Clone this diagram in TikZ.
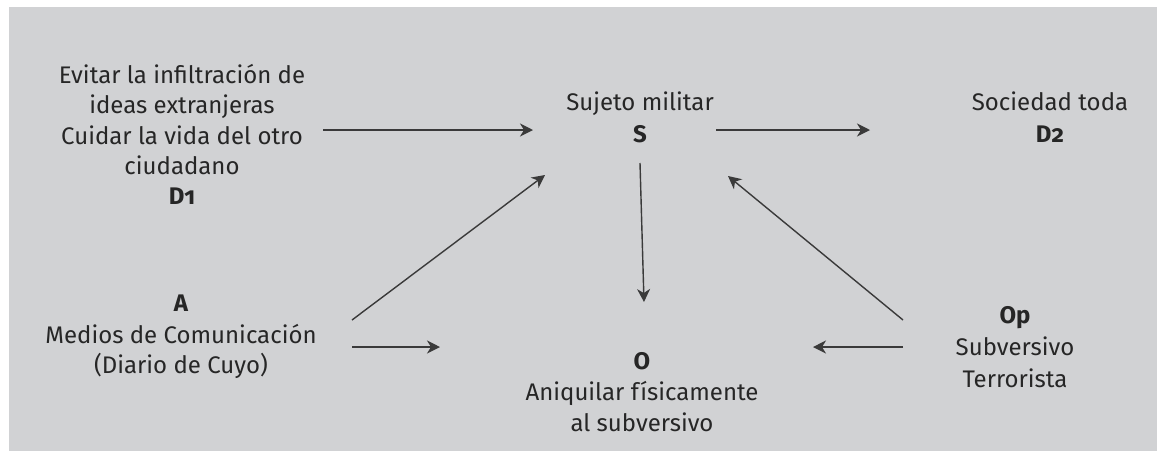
\documentclass[tikz,border=0pt]{standalone}
\usepackage{fontspec}
\setmainfont{Fira Sans}[Numbers=OldStyle]
\usetikzlibrary{arrows.meta}
\definecolor{bg}{HTML}{D1D2D4}
\definecolor{ink}{HTML}{262626}
\definecolor{arr}{HTML}{3A3A3A}
\begin{document}
\begin{tikzpicture}[x=1pt,y=-1pt,
  txt/.style={anchor=base,inner sep=0pt,text=ink,font=\fontsize{24}{30}\selectfont},
  lbl/.style={txt,font=\fontsize{24}{30}\selectfont\bfseries},
  conn/.style={draw=arr,line width=1.4pt,-{Stealth[length=13pt,width=13pt,inset=4pt]}}]
\path[use as bounding box] (0,0) rectangle (1157,451);
\fill[bg] (9,7) rectangle (1157,451);
% D1 group
\node[txt] (d1a) at (182,83) {Evitar la infiltración de};
\node[txt] (d1b) at (182,113) {ideas extranjeras};
\node[txt] (d1c) at (182,144) {Cuidar la vida del otro};
\node[txt] (d1d) at (182,174) {ciudadano};
\node[lbl] (d1) at (182,204) {D1};
% S group
\node[txt] (sa) at (640,110) {Sujeto militar};
\node[lbl] (s) at (640,142) {S};
% D2 group
\node[txt] (d2a) at (1050,110) {Sociedad toda};
\node[lbl] (d2) at (1050,142) {D2};
% A group
\node[lbl] (a) at (181,311) {A};
\node[txt] (ab) at (181,343) {Medios de Comunicación};
\node[txt] (ac) at (181,373) {(Diario de Cuyo)};
% O group
\node[lbl] (o) at (642,369) {O};
\node[txt] (ob) at (642,400) {Aniquilar físicamente};
\node[txt] (oc) at (642,431) {al subversivo};
% Op group
\node[lbl] (op) at (1015,323) {Op};
\node[txt] (opb) at (1015,355) {Subversivo};
\node[txt] (opc) at (1015,387) {Terrorista};
% connector ends
\coordinate (c1s) at (323,130); \coordinate (c1e) at (533,130);
\coordinate (c2s) at (716,130); \coordinate (c2e) at (870,130);
\coordinate (c3s) at (640,163); \coordinate (c3e) at (644,302);
\coordinate (c4s) at (352,320); \coordinate (c4e) at (545,175);
\coordinate (c5s) at (352,347); \coordinate (c5e) at (440,347);
\coordinate (c6s) at (903,347); \coordinate (c6e) at (813,347);
\coordinate (c7s) at (903,320); \coordinate (c7e) at (728,176);
\draw[conn] (c1s) -- (c1e);
\draw[conn] (c2s) -- (c2e);
\draw[conn] (c3s) -- (c3e);
\draw[conn] (c4s) -- (c4e);
\draw[conn] (c5s) -- (c5e);
\draw[conn] (c6s) -- (c6e);
\draw[conn] (c7s) -- (c7e);
\end{tikzpicture}
\end{document}
